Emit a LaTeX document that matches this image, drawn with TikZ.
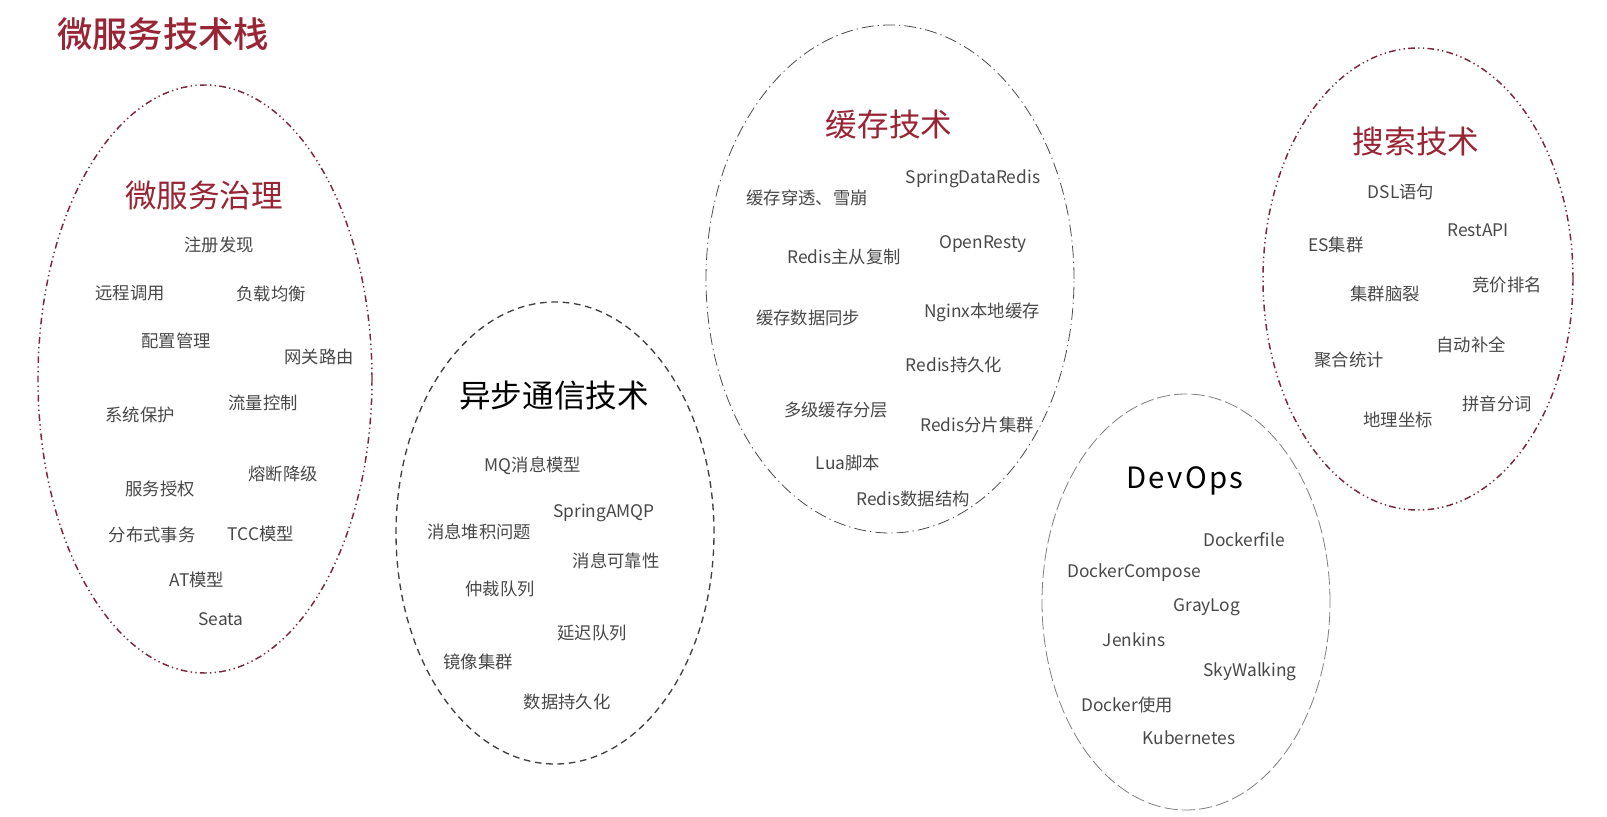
\documentclass[tikz,border=0pt]{standalone}
\usepackage{fontspec}
\setmainfont{Noto Sans CJK SC}
\newfontfamily\titlemed{Noto Sans CJK SC Medium}
\definecolor{maroon}{RGB}{152,36,52}
\definecolor{ringred}{RGB}{120,40,58}
\definecolor{itemgray}{RGB}{72,72,72}
\begin{document}
\begin{tikzpicture}[x=0.75pt,y=-0.75pt,
  item/.style={text=itemgray,font=\fontsize{13}{15}\selectfont,inner sep=0pt},
  redtitle/.style={text=maroon,font=\fontsize{23.7}{26}\selectfont,inner sep=0pt},
  blacktitle/.style={text=black,font=\fontsize{23.7}{26}\selectfont,inner sep=0pt},
  ringdd/.style={draw=ringred,line width=1.1pt,dash pattern=on 5pt off 2.5pt on 1pt off 2.5pt on 1pt off 2.5pt},
  ringdash/.style={draw=black!75,line width=1pt,dash pattern=on 5pt off 3.5pt},
  ringdot/.style={draw=black!70,line width=0.6pt,dash pattern=on 9pt off 3pt on 1pt off 3pt},
  ringlong/.style={draw=black!50,line width=0.6pt,dash pattern=on 10pt off 3pt}]
\useasboundingbox (0,0) rectangle (1607,817);
\fill[white] (0,0) rectangle (1607,817);

\node[text=maroon,font=\titlemed\fontsize{26.5}{30}\selectfont,inner sep=0pt] (main) at (163,34) {微服务技术栈};

% ellipse 1
\draw[ringdd] (205,379) ellipse [x radius=125.25pt, y radius=220.5pt];
\node[redtitle] (t1) at (204,196) {微服务治理};
\node[item] (a1) at (219,245) {注册发现};
\node[item] (a2) at (130,293) {远程调用};
\node[item] (a3) at (271,294) {负载均衡};
\node[item] (a4) at (176,341) {配置管理};
\node[item] (a5) at (319,357) {网关路由};
\node[item] (a6) at (140,415) {系统保护};
\node[item] (a7) at (263,403) {流量控制};
\node[item] (a8) at (283,474) {熔断降级};
\node[item] (a9) at (160,489) {服务授权};
\node[item] (a10) at (152,535) {分布式事务};
\node[item] (a11) at (261,534) {TCC模型};
\node[item] (a12) at (197,580) {AT模型};
\node[item] (a13) at (221,619) {Seata};

% ellipse 2
\draw[ringdash] (555,533) ellipse [x radius=119.25pt, y radius=173.25pt];
\node[blacktitle] (t2) at (554,396) {异步通信技术};
\node[item] (b1) at (533,466) {MQ消息模型};
\node[item] (b2) at (604,513) {SpringAMQP};
\node[item] (b3) at (479,532) {消息堆积问题};
\node[item] (b4) at (616,561) {消息可靠性};
\node[item] (b5) at (500,589) {仲裁队列};
\node[item] (b6) at (592,633) {延迟队列};
\node[item] (b7) at (478,662) {镜像集群};
\node[item] (b8) at (567,702) {数据持久化};

% ellipse 3
\draw[ringdot] (890,279) ellipse [x radius=138pt, y radius=190.5pt];
\node[redtitle] (t3) at (889,125) {缓存技术};
\node[item] (c1) at (973,179) {SpringDataRedis};
\node[item] (c2) at (807,198) {缓存穿透、雪崩};
\node[item] (c3) at (844,257) {Redis主从复制};
\node[item] (c4) at (983,244) {OpenResty};
\node[item] (c5) at (808,318) {缓存数据同步};
\node[item] (c6) at (982,312) {Nginx本地缓存};
\node[item] (c7) at (954,365) {Redis持久化};
\node[item] (c8) at (836,410) {多级缓存分层};
\node[item] (c9) at (977,425) {Redis分片集群};
\node[item] (c10) at (848,463) {Lua脚本};
\node[item] (c11) at (913,499) {Redis数据结构};

% ellipse 4
\draw[ringdd] (1418,279) ellipse [x radius=116.25pt, y radius=173.25pt];
\node[redtitle] (t4) at (1416,142) {搜索技术};
\node[item] (d1) at (1401,192) {DSL语句};
\node[item] (d2) at (1478,230) {RestAPI};
\node[item] (d3) at (1336,245) {ES集群};
\node[item] (d4) at (1507,285) {竞价排名};
\node[item] (d5) at (1385,294) {集群脑裂};
\node[item] (d6) at (1471,345) {自动补全};
\node[item] (d7) at (1349,360) {聚合统计};
\node[item] (d8) at (1497,404) {拼音分词};
\node[item] (d9) at (1398,420) {地理坐标};

% ellipse 5
\draw[ringlong] (1186,602) ellipse [x radius=108pt, y radius=156pt];
\node[blacktitle,font=\fontsize{22}{26}\selectfont\addfontfeatures{LetterSpace=8}] (t5) at (1185,481) {DevOps};
\node[item] (e1) at (1244,540) {Dockerfile};
\node[item] (e2) at (1134,573) {DockerCompose};
\node[item] (e3) at (1207,607) {GrayLog};
\node[item] (e4) at (1134,640) {Jenkins};
\node[item] (e5) at (1250,672) {SkyWalking};
\node[item] (e6) at (1127,705) {Docker使用};
\node[item] (e7) at (1189,738) {Kubernetes};
\end{tikzpicture}
\end{document}
